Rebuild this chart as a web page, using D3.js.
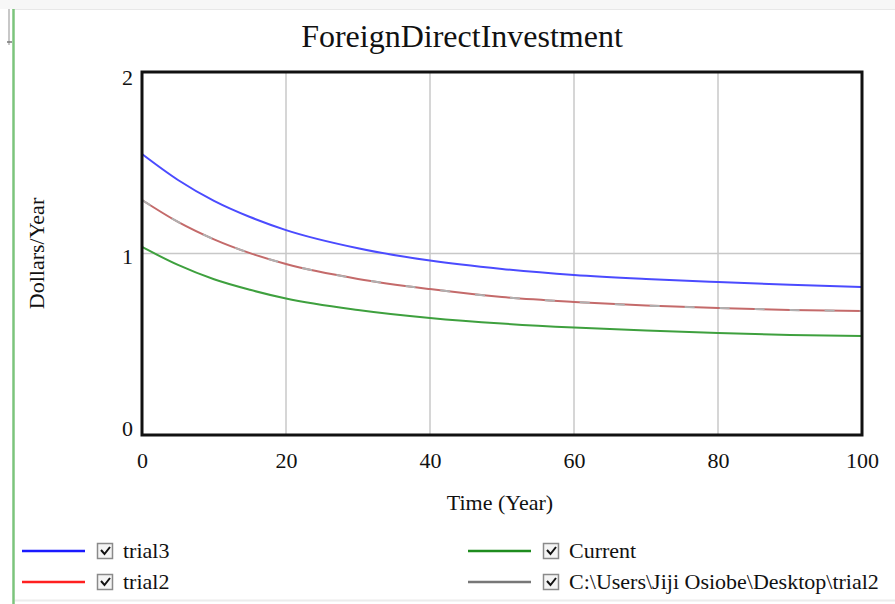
<!DOCTYPE html>
<html>
<head>
<meta charset="utf-8">
<script src="https://cdn.jsdelivr.net/npm/d3@7"></script>
<style>
  html, body { margin: 0; padding: 0; background: #fff; }
  svg { display: block; font-family: "Liberation Serif", "Times New Roman", serif; }
</style>
</head>
<body>
<svg id="chart" width="895" height="604"></svg>
<script>
(function () {
    const svg = d3.select("#chart");
    const W = 895, H = 604;

    // values
    const years   = [0, 5, 10, 15, 20, 30, 40, 50, 60, 70, 80, 90, 100];
    const trial3  = [1.548, 1.405, 1.290, 1.201, 1.129, 1.029, 0.961, 0.915, 0.882, 0.860, 0.843, 0.828, 0.815];
    const trial2  = [1.295, 1.174, 1.078, 1.002, 0.942, 0.860, 0.804, 0.760, 0.733, 0.713, 0.700, 0.689, 0.683];
    const current = [1.036, 0.937, 0.858, 0.800, 0.752, 0.689, 0.645, 0.614, 0.592, 0.576, 0.562, 0.551, 0.545];
    const loaded  = [1.295, 1.174, 1.078, 1.002, 0.942, 0.860, 0.804, 0.760, 0.733, 0.713, 0.700, 0.689, 0.683];

    const xTicks = [0, 20, 40, 60, 80, 100];
    const yTicks = [0, 1, 2];

    const series = [
        { name: "trial3",  values: trial3,  color: "#4b4bff", dash: null },
        { name: "trial2",  values: trial2,  color: "#c46a6a", dash: null },
        { name: "Current", values: current, color: "#3ea03e", dash: null },
        { name: "C:\\Users\\Jiji Osiobe\\Desktop\\trial2", values: loaded, color: "#b0b0b0", dash: "10,25" }
    ];
    const legendColor = { "trial3": "#1a1aff", "trial2": "#ff2020", "Current": "#1e8c1e" };

    const m = { left: 142, right: 862, top: 72, bottom: 435 };

    const x = d3.scaleLinear().domain([0, 100]).range([m.left, m.right]);
    const y = d3.scaleLinear().domain([0, 2]).range([m.bottom, m.top]);

    // window chrome: top strip, left green border, bottom line
    svg.append("rect").attr("x", 0).attr("y", 0).attr("width", W).attr("height", 9).attr("fill", "#f7f7f7");
    svg.append("line").attr("x1", 12).attr("x2", W).attr("y1", 9.5).attr("y2", 9.5)
        .attr("stroke", "#e8e8e8").attr("stroke-width", 1);
    svg.append("line").attr("x1", 13.5).attr("x2", 13.5).attr("y1", 9).attr("y2", H)
        .attr("stroke", "#7cc47c").attr("stroke-width", 2.5);
    svg.append("line").attr("x1", 9).attr("x2", 9).attr("y1", 9).attr("y2", 45)
        .attr("stroke", "#c8c8c8").attr("stroke-width", 2);
    svg.append("line").attr("x1", 7).attr("x2", 12).attr("y1", 42).attr("y2", 42)
        .attr("stroke", "#777").attr("stroke-width", 1.5);
    svg.append("line").attr("x1", 15).attr("x2", W).attr("y1", 600.5).attr("y2", 600.5)
        .attr("stroke", "#ececec").attr("stroke-width", 2);

    // title
    svg.append("text")
        .attr("x", (m.left + m.right) / 2 - 40).attr("y", 47)
        .attr("text-anchor", "middle")
        .attr("font-size", "32px").attr("fill", "#111")
        .text("ForeignDirectInvestment");

    // grid
    const grid = svg.append("g").attr("class", "grid");
    grid.selectAll("line.vx")
        .data(xTicks.slice(1, -1))
        .join("line")
        .attr("x1", d => x(d)).attr("x2", d => x(d))
        .attr("y1", m.top).attr("y2", m.bottom)
        .attr("stroke", "#c8c8c8").attr("stroke-width", 1.5);
    grid.selectAll("line.hy")
        .data(yTicks.slice(1, -1))
        .join("line")
        .attr("x1", m.left).attr("x2", m.right)
        .attr("y1", d => y(d)).attr("y2", d => y(d))
        .attr("stroke", "#c8c8c8").attr("stroke-width", 1.5);

    // lines
    const line = d3.line()
        .x((d, i) => x(years[i]))
        .y(d => y(d))
        .curve(d3.curveMonotoneX);

    svg.append("g").attr("class", "lines")
        .selectAll("path")
        .data(series)
        .join("path")
        .attr("d", d => line(d.values))
        .attr("fill", "none")
        .attr("stroke", d => d.color)
        .attr("stroke-width", 2)
        .attr("stroke-dasharray", d => d.dash);

    // frame
    svg.append("rect")
        .attr("x", m.left).attr("y", m.top)
        .attr("width", m.right - m.left).attr("height", m.bottom - m.top)
        .attr("fill", "none").attr("stroke", "#111").attr("stroke-width", 3);

    // axes (labels only, the frame draws the lines)
    const xAxis = svg.append("g")
        .attr("transform", `translate(0,${m.bottom})`)
        .call(d3.axisBottom(x).tickValues(xTicks).tickSize(0).tickPadding(17));
    const yAxis = svg.append("g")
        .attr("transform", `translate(${m.left},0)`)
        .call(d3.axisLeft(y).tickValues(yTicks).tickFormat(d3.format("d")).tickSize(0).tickPadding(9));
    [xAxis, yAxis].forEach(g => {
        g.select(".domain").remove();
        g.selectAll("text")
            .attr("font-family", "Liberation Serif, Times New Roman, serif")
            .attr("font-size", "22px").attr("fill", "#111");
    });
    // Vensim nudges the end labels inside the frame
    yAxis.selectAll("text").attr("dy", d => d === 0 ? "0.0em" : d === 2 ? "0.55em" : "0.45em");

    svg.append("text")
        .attr("x", (m.left + m.right) / 2 - 2).attr("y", 510)
        .attr("text-anchor", "middle")
        .attr("font-size", "22px").attr("fill", "#111")
        .text("Time (Year)");

    svg.append("text")
        .attr("transform", `translate(44,${(m.top + m.bottom) / 2}) rotate(-90)`)
        .attr("text-anchor", "middle")
        .attr("font-size", "22px").attr("fill", "#111")
        .text("Dollars/Year");

    // legend
    const legendPos = [
        { lx: 22,  ly: 551 },
        { lx: 22,  ly: 582 },
        { lx: 468, ly: 551 },
        { lx: 468, ly: 582 }
    ];
    const leg = svg.append("g").attr("class", "legend")
        .selectAll("g")
        .data(series)
        .join("g")
        .attr("transform", (d, i) => `translate(${legendPos[i].lx},${legendPos[i].ly})`);
    leg.append("line")
        .attr("x1", 0).attr("x2", 63).attr("y1", 0).attr("y2", 0)
        .attr("stroke", d => legendColor[d.name] || "#777")
        .attr("stroke-width", 2.5);
    leg.append("rect")
        .attr("x", 75.5).attr("y", -7.5).attr("width", 15).attr("height", 15)
        .attr("fill", "#f4f4f4").attr("stroke", "#8a8a8a").attr("stroke-width", 1.5);
    leg.append("path")
        .attr("d", "M79,-1 L82.5,3 L88,-4")
        .attr("fill", "none").attr("stroke", "#111").attr("stroke-width", 2);
    leg.append("text")
        .attr("x", 101).attr("y", 7)
        .attr("font-size", "22px").attr("fill", "#111")
        .text(d => d.name);
})();
</script>
</body>
</html>
